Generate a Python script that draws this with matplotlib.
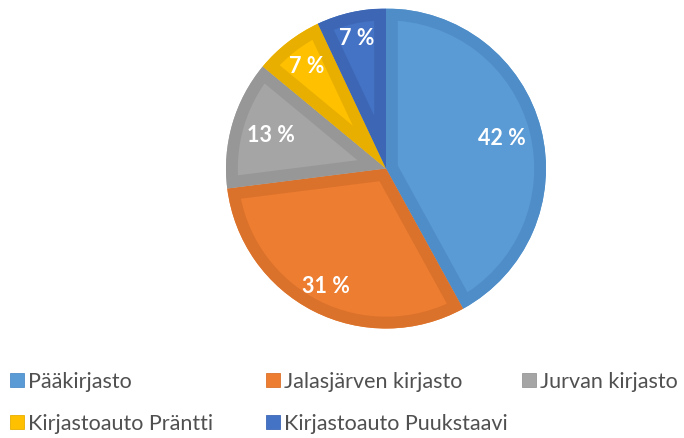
import matplotlib.pyplot as plt
from matplotlib.patches import Rectangle, Wedge

categories = ["Pääkirjasto", "Jalasjärven kirjasto", "Jurvan kirjasto",
              "Kirjastoauto Präntti", "Kirjastoauto Puukstaavi"]
values = [42, 31, 13, 7, 7]
colors = ["#5B9BD5", "#ED7D31", "#A5A5A5", "#FFC000", "#4472C4"]
edge_colors = ["#4F8DC8", "#DB722B", "#979797", "#E8AF00", "#3D67B5"]
label_dist = [0.75, 0.83, 0.75, 0.81, 0.83]

plt.rcParams['font.family'] = ['Lato', 'DejaVu Sans']
fig = plt.figure(figsize=(6.84, 4.38), dpi=100)
cx, cy, r = 386, 168.5, 160
W, H = 684, 438
ax = fig.add_axes([(cx - r) / W, (H - cy - r) / H, 2 * r / W, 2 * r / H])

wedges, texts, autotexts = ax.pie(
    values, colors=colors, startangle=90, counterclock=False,
    autopct=lambda p: f"{p:.0f} %", pctdistance=0.78, radius=1.0,
    wedgeprops=dict(linewidth=0),
    textprops=dict(color="white", fontsize=15.5, fontweight="bold"))

for w, ec in zip(wedges, edge_colors):
    rim = Wedge(w.center, w.r, w.theta1, w.theta2, facecolor="none",
                edgecolor=ec, linewidth=17, zorder=w.get_zorder() + 0.1)
    ax.add_patch(rim)
    rim.set_clip_path(w.get_path(), w.get_transform())

for t, d in zip(autotexts, label_dist):
    x, y = t.get_position()
    f = d / 0.78
    t.set_position((x * f, y * f))
    t.set_zorder(5)

ax.set_xlim(-1, 1)
ax.set_ylim(-1, 1)
ax.set_aspect('equal')
ax.axis('off')

# legend laid out in rows, as in the reference
order = [0, 1, 2, 3, 4]
col_x = [10, 266, 522]
row_y = [380, 422]
sq = 14
for k, i in enumerate(order):
    row, col = divmod(k, 3)
    x0, yc = col_x[col], row_y[row]
    fig.patches.append(Rectangle((x0 / W, 1 - (yc + sq / 2) / H), sq / W, sq / H,
                                 transform=fig.transFigure, facecolor=colors[i],
                                 edgecolor=edge_colors[i], linewidth=0.6))
    fig.text((x0 + sq + 4) / W, 1 - yc / H, categories[i], fontsize=15.5,
             color="#505050", ha="left", va="center_baseline")

fig.savefig("out.png", dpi=100)
